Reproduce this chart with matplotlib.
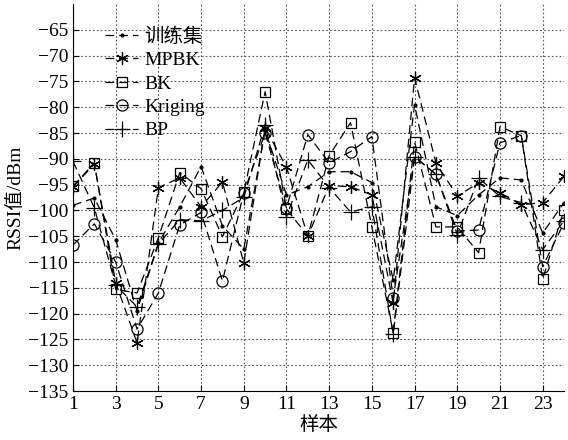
import matplotlib
matplotlib.use("Agg")
import matplotlib.pyplot as plt
import numpy as np

samples = list(range(1, 25))
train = [-99, -97.6, -105.7, -119.5, -106.3, -99.3, -91.5, -103, -107.5, -84.5, -97, -95.4,
         -92.5, -92.5, -94.6, -113.5, -79.5, -99.3, -101, -97, -93.7, -94.1, -104.4, -98.5]
mpbk = [-95.5, -91, -114, -125.7, -95.6, -93.7, -99.3, -94.5, -110.2, -84, -91.6, -105,
        -95.2, -95.4, -97, -118, -74.3, -90.8, -97.2, -94.7, -96.6, -98.9, -98.5, -93.4]
bk = [-95.3, -90.8, -115.3, -116, -105.3, -92.7, -95.8, -105.1, -96.5, -77, -99.7, -105,
      -89.4, -83, -103.2, -123.7, -86.7, -103.2, -103.2, -108.2, -83.8, -85.5, -113.3, -99.9]
kriging = [-106.7, -102.6, -110, -123, -116, -102.8, -100.4, -113.7, -96.6, -85, -99.5, -85.3,
           -90.8, -88.6, -85.7, -117, -89.6, -93, -104, -103.8, -86.9, -85.5, -110.9, -102.4]
bp = [-90.5, -99.5, -114.5, -118.7, -106.5, -101.8, -102, -100, -97.5, -83.4, -101.2, -90.2,
      -95.6, -100.3, -99.3, -124, -89.6, -93, -104.7, -93.7, -97.3, -98.5, -107.6, -102]

labels = ["训练集", "MPBK", "BK", "Kriging", "BP"]
xticks = list(range(1, 24, 2))
yticks = list(range(-135, -64, 5))

fam = ["Liberation Serif", "Noto Sans CJK SC"]
plt.rcParams["font.family"] = fam

fig = plt.figure(figsize=(5.68, 4.4), dpi=100)
ax = fig.add_axes([73/568, (440-391)/440, (564-73)/568, (391-4)/440])

dash = (0, (7, 4))
styles = [
    dict(marker='.', markersize=4),
    dict(marker=(6, 2, 0), markersize=9, markeredgewidth=0.9),
    dict(marker='s', markersize=6.5, markerfacecolor='none', markeredgewidth=0.9),
    dict(marker='o', markersize=8, markerfacecolor='none', markeredgewidth=0.9),
    dict(marker='+', markersize=11, markeredgewidth=0.9),
]
for ys, lab, st in zip([train, mpbk, bk, kriging, bp], labels, styles):
    ax.plot(samples, ys, color='black', linestyle=dash, linewidth=0.9, label=lab, **st)

ax.set_xlim(1, 24)
ax.set_ylim(-135, -60)
ax.set_xticks(xticks)
ax.set_yticks(yticks)
ax.tick_params(direction='in', labelsize=14, length=4)
ax.grid(True, linestyle=(0, (1.5, 2)), color='#555555', linewidth=0.8)
for s in ['top', 'right']:
    ax.spines[s].set_visible(False)
ax.set_xlabel("样本", fontsize=14, labelpad=2)
ax.set_ylabel("RSSI值/dBm", fontsize=14, labelpad=2)

leg = ax.legend(loc='upper left', frameon=False, fontsize=14, handlelength=1.7,
                labelspacing=0.3, borderaxespad=0.0, handletextpad=0.3,
                bbox_to_anchor=(0.05, 0.96))

fig.savefig("out.png", dpi=100)
